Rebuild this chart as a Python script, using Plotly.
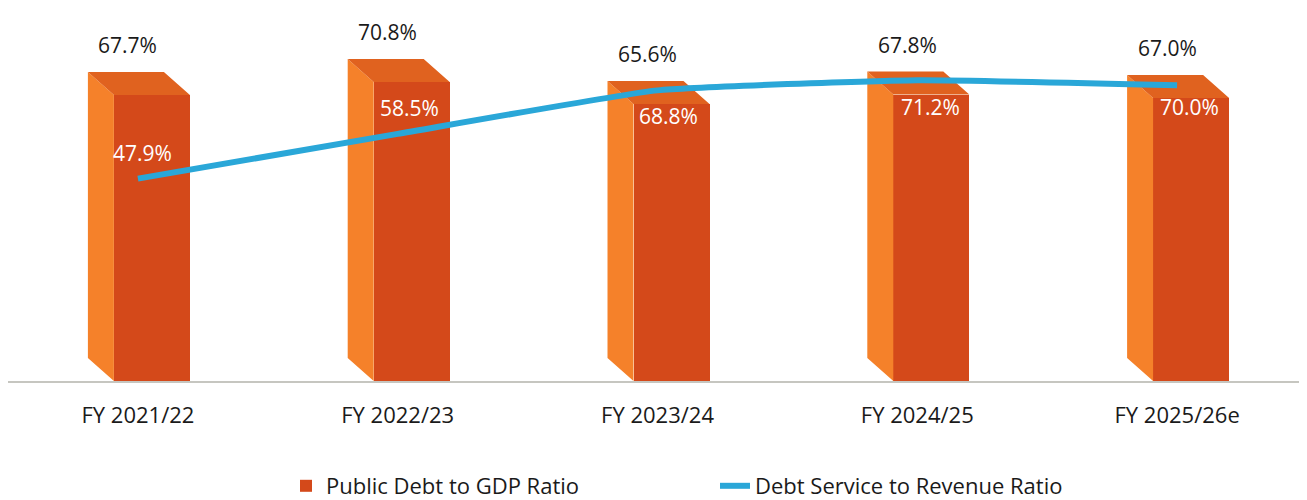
import plotly.graph_objects as go

categories = ["FY 2021/22", "FY 2022/23", "FY 2023/24", "FY 2024/25", "FY 2025/26e"]
public_debt_gdp = [67.7, 70.8, 65.6, 67.8, 67.0]
debt_service_revenue = [47.9, 58.5, 68.8, 71.2, 70.0]

FRONT = "#D4491A"
SIDE = "#F5812A"
TOP = "#E0621F"
LINE = "#2AA7D8"
TEXT = "#1a1a1a"

# the page body adds an 8 px margin, so the figure is 8 px smaller
W, H = 1299, 492
ML, MR, MT, MB = 0, 0, 0, 119
plot_w = W - ML - MR
plot_h = H - MT - MB
YMAX = 88.3
px_x = plot_w / 5.0          # pixels per category unit
px_y = plot_h / YMAX         # pixels per y unit

bar_w = 76 / px_x
bar_off = -24 / px_x
dx = 26 / px_x
dy = 23 / px_y

xs = list(range(len(categories)))

fig = go.Figure()

# front faces (the bars themselves)
fig.add_trace(go.Bar(
    x=xs, y=public_debt_gdp, width=bar_w, offset=bar_off,
    marker=dict(color=FRONT, line=dict(width=0)),
    name="Public Debt to GDP Ratio", hoverinfo="skip", legend="legend",
))

# side and top faces for the 3D look, derived from the same values
side_x, side_y, top_x, top_y = [], [], [], []
for x, v in zip(xs, public_debt_gdp):
    xl = x + bar_off
    xr = xl + bar_w
    side_x += [xl, xl, xl - dx, xl - dx, xl, None]
    side_y += [0, v, v + dy, dy, 0, None]
    top_x += [xl, xl - dx, xr - dx, xr, xl, None]
    top_y += [v, v + dy, v + dy, v, v, None]

fig.add_trace(go.Scatter(x=side_x, y=side_y, fill="toself", fillcolor=SIDE,
                         mode="lines", line=dict(width=0, color=SIDE),
                         showlegend=False, hoverinfo="skip"))
fig.add_trace(go.Scatter(x=top_x, y=top_y, fill="toself", fillcolor=TOP,
                         mode="lines", line=dict(width=0, color=TOP),
                         showlegend=False, hoverinfo="skip"))

fig.add_trace(go.Scatter(
    x=xs, y=debt_service_revenue, mode="lines",
    line=dict(color=LINE, width=6, shape="spline", smoothing=0.4),
    name="Debt Service to Revenue Ratio", hoverinfo="skip", legend="legend2",
))

annotations = []
for x, v in zip(xs, public_debt_gdp):
    annotations.append(dict(x=x, y=v, xref="x", yref="y", text=f"{v:.1f}%",
                            showarrow=False, xshift=-10, yshift=50,
                            font=dict(family="Open Sans", size=21, color=TEXT)))
label_dx = [5, 12, 11, 13, 12]
label_dy = [26, 26, -26, -27, -22]
for x, v, sx, sy in zip(xs, debt_service_revenue, label_dx, label_dy):
    annotations.append(dict(x=x, y=v, xref="x", yref="y", text=f"{v:.1f}%",
                            showarrow=False, xshift=sx, yshift=sy,
                            font=dict(family="Open Sans", size=21, color="#ffffff")))

legend_font = dict(family="Open Sans", size=22, color=TEXT)
leg_y = (plot_h - 478) / plot_h

fig.update_layout(
    width=W, height=H,
    margin=dict(l=ML, r=MR, t=MT, b=MB, pad=0, autoexpand=False),
    plot_bgcolor="#ffffff", paper_bgcolor="#ffffff",
    showlegend=True,
    legend=dict(orientation="h", x=278 / plot_w, xanchor="left", y=leg_y, yanchor="middle",
                font=legend_font, bgcolor="rgba(0,0,0,0)"),
    legend2=dict(orientation="h", x=707 / plot_w, xanchor="left", y=leg_y, yanchor="middle",
                 font=legend_font, bgcolor="rgba(0,0,0,0)"),
    xaxis=dict(range=[-0.5, 4.5], tickvals=xs, ticktext=categories,
               showgrid=False, zeroline=False, showline=True, linecolor="#C6C6C0", linewidth=2,
               ticks="", ticklabelstandoff=14,
               tickfont=dict(family="Open Sans", size=22, color=TEXT),
               fixedrange=True),
    yaxis=dict(range=[0, YMAX], visible=False, fixedrange=True),
    annotations=annotations,
    bargap=0,
)

fig.write_html("out.html")
